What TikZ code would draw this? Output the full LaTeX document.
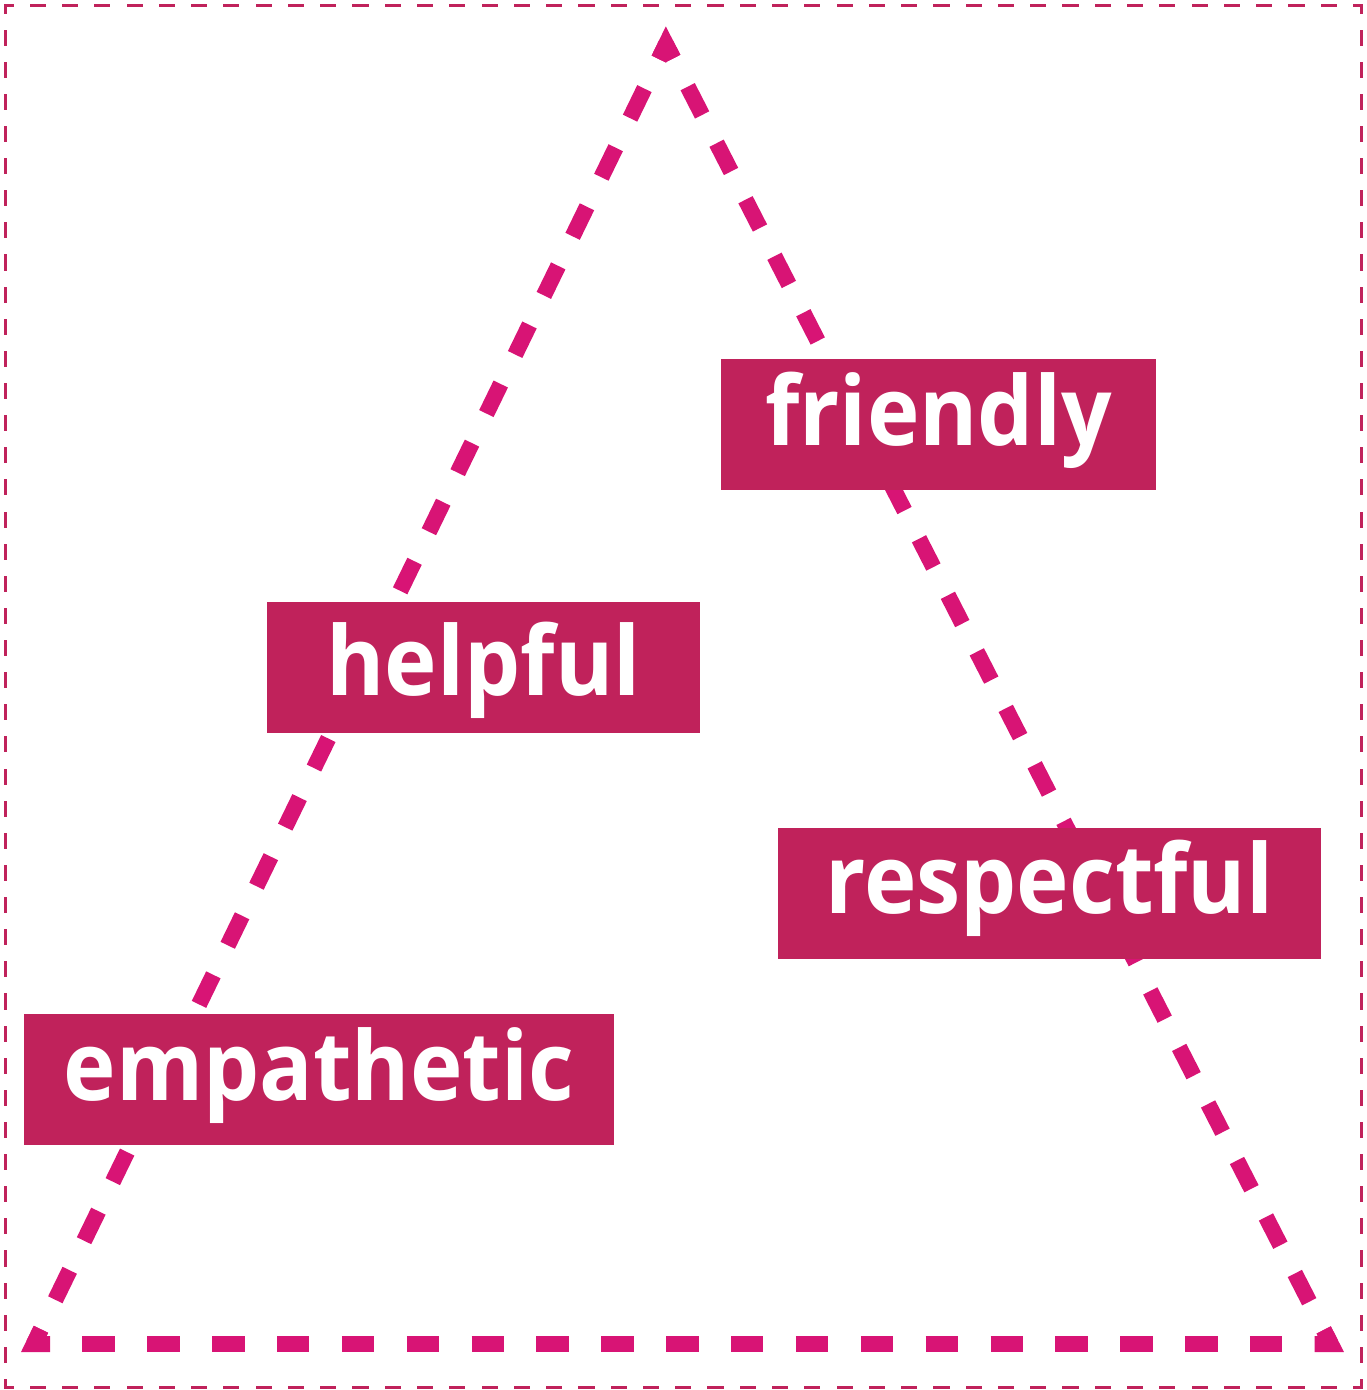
\documentclass[tikz,border=0pt]{standalone}
\usepackage{fontspec}
\usepackage{graphicx}
\setmainfont{Open Sans}
\usetikzlibrary{calc}
\definecolor{boxc}{HTML}{C0225B}
\definecolor{tric}{HTML}{D81475}
\newcommand{\wordfit}[1]{\scalebox{0.925}[1]{#1}}
\tikzset{
  boxstyle/.style={rectangle, fill=boxc, draw=none, inner sep=0pt, minimum height=131pt},
  wordstyle/.style={text=white, inner sep=0pt, anchor=base, font=\fontsize{96}{110}\selectfont\bfseries},
  borderline/.style={draw=boxc, line width=3pt, line cap=rect},
  triline/.style={draw=tric, line width=16pt, line cap=butt},
  tricorner/.style={draw=tric, line width=16pt, line cap=butt, line join=miter}
}
\begin{document}
\begin{tikzpicture}[x=1pt, y=-1pt]
\useasboundingbox (0,0) rectangle (1366,1390);
% outer frame corners
\coordinate (tl) at (5.5,5.5);
\coordinate (tr) at (1361,5.5);
\coordinate (brr) at (1361,1387);
\coordinate (bll) at (5.5,1387);
\draw[borderline, dash pattern=on 13.137pt off 19.137pt, dash phase=6.57pt] (tl) -- (tr);
\draw[borderline, dash pattern=on 13.137pt off 19.137pt, dash phase=6.57pt] (bll) -- (brr);
\draw[borderline, dash pattern=on 13.064pt off 19.064pt, dash phase=6.53pt] (tl) -- (bll);
\draw[borderline, dash pattern=on 13.064pt off 19.064pt, dash phase=6.53pt] (tr) -- (brr);
% triangle
\coordinate (apex) at (666,44.3);
\coordinate (bl) at (33.8,1344);
\coordinate (br) at (1330.9,1344);
\draw[triline, dash pattern=on 32.85pt off 32.85pt, dash phase=16.42pt] (apex) -- (bl);
\draw[triline, dash pattern=on 31.74pt off 31.74pt, dash phase=15.87pt] (apex) -- (br);
\draw[triline, dash pattern=on 32.43pt off 32.43pt, dash phase=16.21pt] (bl) -- (br);
\draw[tricorner] ($(apex)!15.87pt!(br)$) -- (apex) -- ($(apex)!16.42pt!(bl)$);
\draw[tricorner] ($(bl)!16.42pt!(apex)$) -- (bl) -- ($(bl)!16.21pt!(br)$);
\draw[tricorner] ($(br)!16.21pt!(bl)$) -- (br) -- ($(br)!15.87pt!(apex)$);
% boxes
\node[boxstyle, minimum width=435pt] (friendly) at (938.5,424.5) {};
\node[boxstyle, minimum width=433pt] (helpful) at (483.5,667.5) {};
\node[boxstyle, minimum width=543pt] (respectful) at (1049.5,893.5) {};
\node[boxstyle, minimum width=590pt] (empathetic) at (319,1079.5) {};
% words
\node[wordstyle] (friendlyw) at (938.5,445) {\wordfit{friendly}};
\node[wordstyle] (helpfulw) at (483.5,695) {\wordfit{helpful}};
\node[wordstyle] (respectfulw) at (1049.5,913) {\wordfit{respectful}};
\node[wordstyle] (empatheticw) at (319,1100) {\wordfit{empathetic}};
\end{tikzpicture}
\end{document}
